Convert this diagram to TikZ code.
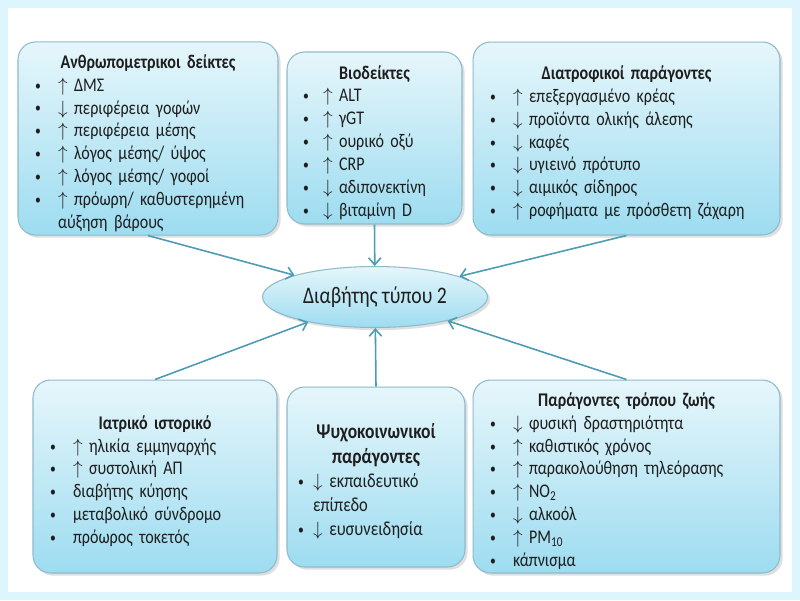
\documentclass[tikz,border=0pt]{standalone}
\usepackage{fontspec}
\setmainfont{Carlito}[FakeStretch=0.83]
\usepackage{tikz}
\usetikzlibrary{positioning, shapes.geometric, shadows, arrows.meta}
\definecolor{boxtop}{HTML}{E6F6FB}
\definecolor{boxbot}{HTML}{9DDCF0}
\definecolor{boxline}{HTML}{8DBBCB}
\definecolor{arrowc}{HTML}{4C9DB4}
\definecolor{framec}{HTML}{DDF5FC}
\definecolor{textc}{HTML}{1E1E1E}
\newlength{\bulsep}
\setlength{\bulsep}{0.46cm}
\newcommand{\bul}[1]{\par\noindent\makebox[\bulsep][l]{\raisebox{0.6pt}{\fontsize{8}{8}\selectfont\textbullet}}\parbox[t]{\dimexpr\linewidth-\bulsep\relax}{\raggedright #1}}
\newcommand{\contline}[1]{\par\noindent\hspace*{\bulsep}#1}
\newcommand{\ttl}[1]{\par\noindent\makebox[\linewidth][c]{\bfseries #1}}
\newcommand{\up}{$\uparrow$\ }
\newcommand{\dn}{$\downarrow$\ }
\tikzset{factor/.style={rectangle, rounded corners=10pt, draw=boxline, line width=0.6pt, top color=boxtop, bottom color=boxbot, drop shadow={opacity=0.25, shadow xshift=1.5pt, shadow yshift=-1.5pt}, text=textc, align=left, inner xsep=0.34cm, inner ysep=2pt, font=\fontsize{11}{13}\selectfont},
    outcome/.style={ellipse, draw=boxline, line width=0.6pt, top color=boxtop, bottom color=boxbot, drop shadow={opacity=0.25, shadow xshift=1.5pt, shadow yshift=-1.5pt}, text=textc, minimum width=4.5cm, minimum height=1.22cm, inner sep=0pt, font=\fontsize{13.5}{15}\selectfont},
    link/.style={draw=arrowc, line width=0.9pt, -{Straight Barb[length=4pt, width=7pt]}}}

\begin{document}
\begin{tikzpicture}[x=0.02cm, y=-0.02cm]
                 \useasboundingbox(0,0) rectangle (800,600);
                 \fill[framec](0,0) rectangle (800,600);
                 \fill[white](8,8) rectangle (792,592);
                 % the six groups of factors
                 \node[factor, minimum width=5.2cm, minimum height=3.86cm, text width=5.2cm-0.68cm] (anthro) at (148,138.5)
                 {\ttl{Ανθρωπομετρικοι δείκτες}\bul{\up ΔΜΣ}\bul{\dn περιφέρεια γοφών}\bul{\up περιφέρεια μέσης}\bul{\up λόγος μέσης/ ύψος}\bul{\up λόγος μέσης/ γοφοί}\bul{\up πρόωρη/ καθυστερημένη αύξηση βάρους}};
                 \node[factor, minimum width=3.5cm, minimum height=3.44cm, text width=3.5cm-0.64cm, inner xsep=0.32cm] (bio) at (374.5,138)
                 {\setlength{\bulsep}{0.4cm}\ttl{Βιοδείκτες}\bul{\up ALT}\bul{\up γGT}\bul{\up ουρικό οξύ}\bul{\up CRP}\bul{\dn αδιπονεκτίνη}\bul{\dn βιταμίνη D}};
                 \node[factor, minimum width=6.14cm, minimum height=3.86cm, text width=6.14cm-0.68cm] (diet) at (626.5,138.5)
                 {\ttl{Διατροφικοί παράγοντες}\bul{\up επεξεργασμένο κρέας}\bul{\dn προϊόντα ολικής άλεσης}\bul{\dn καφές}\bul{\dn υγιεινό πρότυπο}\bul{\dn αιμικός σίδηρος}\bul{\up ροφήματα με πρόσθετη ζάχαρη}};
                 \node[factor, minimum width=4.88cm, minimum height=3.86cm, text width=4.88cm-0.68cm] (medical) at (155,476.5)
                 {\ttl{Ιατρικό ιστορικό}\bul{\up ηλικία εμμηναρχής}\bul{\up συστολική ΑΠ}\bul{διαβήτης κύησης}\bul{μεταβολικό σύνδρομο}\bul{πρόωρος τοκετός}};
                 \node[factor, minimum width=3.56cm, minimum height=3.6cm, text width=3.56cm-0.44cm, inner xsep=0.22cm, font=\fontsize{11.3}{13.8}\selectfont] (psycho) at (376,477)
                 {\setlength{\bulsep}{0.3cm}\ttl{\fontsize{12}{15}\selectfont Ψυχοκοινωνικοί}\ttl{\fontsize{12}{15}\selectfont παράγοντες}\bul{\dn εκπαιδευτικό}\contline{επίπεδο}\bul{\dn ευσυνειδησία}};
                 \node[factor, minimum width=6.14cm, minimum height=3.86cm, text width=6.14cm-0.68cm] (life) at (626.5,476.5)
                 {\ttl{Παράγοντες τρόπου ζωής}\bul{\dn φυσική δραστηριότητα}\bul{\up καθιστικός χρόνος}\bul{\up παρακολούθηση τηλεόρασης}\bul{\up NO\textsubscript{2}}\bul{\dn αλκοόλ}\bul{\up PM\textsubscript{10}}\bul{κάπνισμα}};
                 % outcome
                 \node[outcome] (t2d) at (375,297) {Διαβήτης τύπου 2};
                 % links
                 \draw[link](anthro.south)--(t2d);
                 \draw[link](bio.south)--(t2d);
                 \draw[link](diet.south)--(t2d);
                 \draw[link](medical.north)--(t2d);
                 \draw[link](psycho.north)--(t2d);
                 \draw[link](life.north)--(t2d);
             \end{tikzpicture}
\end{document}
